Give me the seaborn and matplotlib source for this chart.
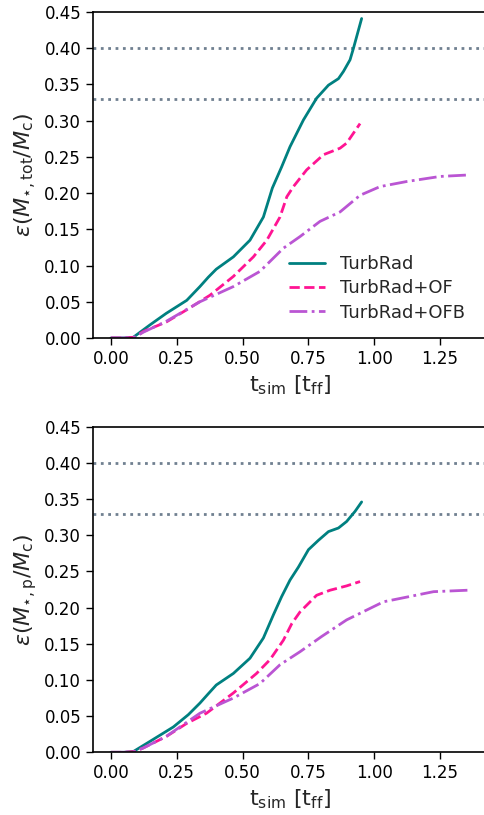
import matplotlib
matplotlib.use("Agg")
import matplotlib.pyplot as plt
import seaborn as sns
import numpy as np
import pandas as pd

# ---- data ----
top_turbrad_t = [0, 0.05, 0.085, 0.148, 0.21, 0.288, 0.338, 0.37, 0.40, 0.465, 0.528, 0.579, 0.613, 0.648,
                 0.680, 0.731, 0.781, 0.826, 0.864, 0.883, 0.908, 0.921, 0.952]
top_turbrad_e = [0, 0, 0.001, 0.018, 0.034, 0.052, 0.071, 0.084, 0.095, 0.112, 0.135, 0.167, 0.207, 0.236,
                 0.264, 0.301, 0.331, 0.349, 0.358, 0.368, 0.384, 0.40, 0.441]
top_of_t = [0, 0.05, 0.09, 0.123, 0.21, 0.288, 0.376, 0.465, 0.541, 0.592, 0.642, 0.668, 0.693,
            0.743, 0.807, 0.870, 0.895, 0.946]
top_of_e = [0, 0, 0.001, 0.009, 0.022, 0.039, 0.059, 0.085, 0.112, 0.135, 0.167, 0.195, 0.209,
            0.232, 0.253, 0.262, 0.269, 0.296]
top_ofb_t = [0, 0.05, 0.09, 0.123, 0.21, 0.338, 0.465, 0.566, 0.655, 0.718, 0.794, 0.870, 0.946,
             1.022, 1.123, 1.25, 1.355]
top_ofb_e = [0, 0, 0.001, 0.008, 0.023, 0.050, 0.071, 0.092, 0.124, 0.140, 0.161, 0.174, 0.197,
             0.209, 0.216, 0.223, 0.225]

bot_turbrad_t = [0, 0.05, 0.085, 0.148, 0.237, 0.294, 0.338, 0.37, 0.40, 0.465, 0.528, 0.579, 0.617, 0.648,
                 0.680, 0.712, 0.750, 0.788, 0.826, 0.864, 0.895, 0.927, 0.952]
bot_turbrad_e = [0, 0, 0.001, 0.015, 0.035, 0.052, 0.068, 0.081, 0.093, 0.109, 0.130, 0.158, 0.190, 0.215,
                 0.238, 0.256, 0.280, 0.293, 0.305, 0.310, 0.319, 0.333, 0.346]
bot_of_t = [0, 0.05, 0.09, 0.123, 0.211, 0.288, 0.363, 0.465, 0.553, 0.604, 0.655, 0.687, 0.718,
            0.781, 0.832, 0.895, 0.946]
bot_of_e = [0, 0, 0.001, 0.006, 0.022, 0.040, 0.054, 0.082, 0.109, 0.128, 0.155, 0.178, 0.194,
            0.217, 0.224, 0.230, 0.236]
bot_ofb_t = [0, 0.05, 0.09, 0.123, 0.21, 0.338, 0.465, 0.566, 0.642, 0.718, 0.80, 0.895, 1.035,
             1.225, 1.355]
bot_ofb_e = [0, 0, 0.001, 0.006, 0.022, 0.054, 0.075, 0.095, 0.121, 0.139, 0.160, 0.183, 0.208,
             0.222, 0.224]

labels = ["TurbRad", "TurbRad+OF", "TurbRad+OFB"]
ref_levels = [0.40, 0.33]
xticks = [0.00, 0.25, 0.50, 0.75, 1.00, 1.25]
yticks = [0.00, 0.05, 0.10, 0.15, 0.20, 0.25, 0.30, 0.35, 0.40, 0.45]

colors = ["#008080", "#ff1493", "#ba55d3"]
styles = ["-", "--", "-."]

sns.set_style("ticks")
plt.rcParams['font.family'] = ['DejaVu Sans']
plt.rcParams['mathtext.fontset'] = 'dejavusans'

fig = plt.figure(figsize=(4.84, 8.15), dpi=100)
W, H = 484, 815
ax1 = fig.add_axes([93 / W, 1 - 338 / H, (487 - 93) / W, (338 - 12) / H])
ax2 = fig.add_axes([93 / W, 1 - 752.3 / H, (487 - 93) / W, (752.3 - 426.7) / H])

panels = [
    (ax1, [(top_turbrad_t, top_turbrad_e), (top_of_t, top_of_e), (top_ofb_t, top_ofb_e)],
     r'$\varepsilon(M_{\star,\mathrm{tot}}/M_{\mathrm{c}})$'),
    (ax2, [(bot_turbrad_t, bot_turbrad_e), (bot_of_t, bot_of_e), (bot_ofb_t, bot_ofb_e)],
     r'$\varepsilon(M_{\star,\mathrm{p}}/M_{\mathrm{c}})$'),
]

for ax, series, ylab in panels:
    for lv in ref_levels:
        ax.axhline(lv, color="#708090", linestyle=":", linewidth=2)
    for (t, e), lab, c, ls in zip(series, labels, colors, styles):
        df = pd.DataFrame({"t": t, "e": e})
        sns.lineplot(data=df, x="t", y="e", ax=ax, color=c, linestyle=ls, linewidth=2,
                     label=lab if ax is ax1 else None, estimator=None, sort=False)
    ax.set_xlim(-0.068, 1.428)
    ax.set_ylim(0, 0.45)
    ax.set_xticks(xticks)
    ax.set_xticklabels([f"{v:.2f}" for v in xticks])
    ax.set_yticks(yticks)
    ax.set_yticklabels([f"{v:.2f}" for v in yticks])
    ax.tick_params(labelsize=12, length=5, width=1, colors="black")
    ax.set_xlabel(r'$\mathrm{t_{sim}}$ [$\mathrm{t_{ff}}$]', fontsize=16)
    ax.set_ylabel(ylab, fontsize=16)
    for s in ["left", "bottom", "top"]:
        ax.spines[s].set_visible(True)
        ax.spines[s].set_color("black")
        ax.spines[s].set_linewidth(1.2)
    ax.spines["right"].set_visible(False)

leg = ax1.legend(loc="lower right", bbox_to_anchor=(0.985, 0.0), frameon=False, fontsize=13,
                 handlelength=2.0, labelspacing=0.35)
if ax2.get_legend() is not None:
    ax2.get_legend().remove()

fig.savefig("out.png", dpi=100)
